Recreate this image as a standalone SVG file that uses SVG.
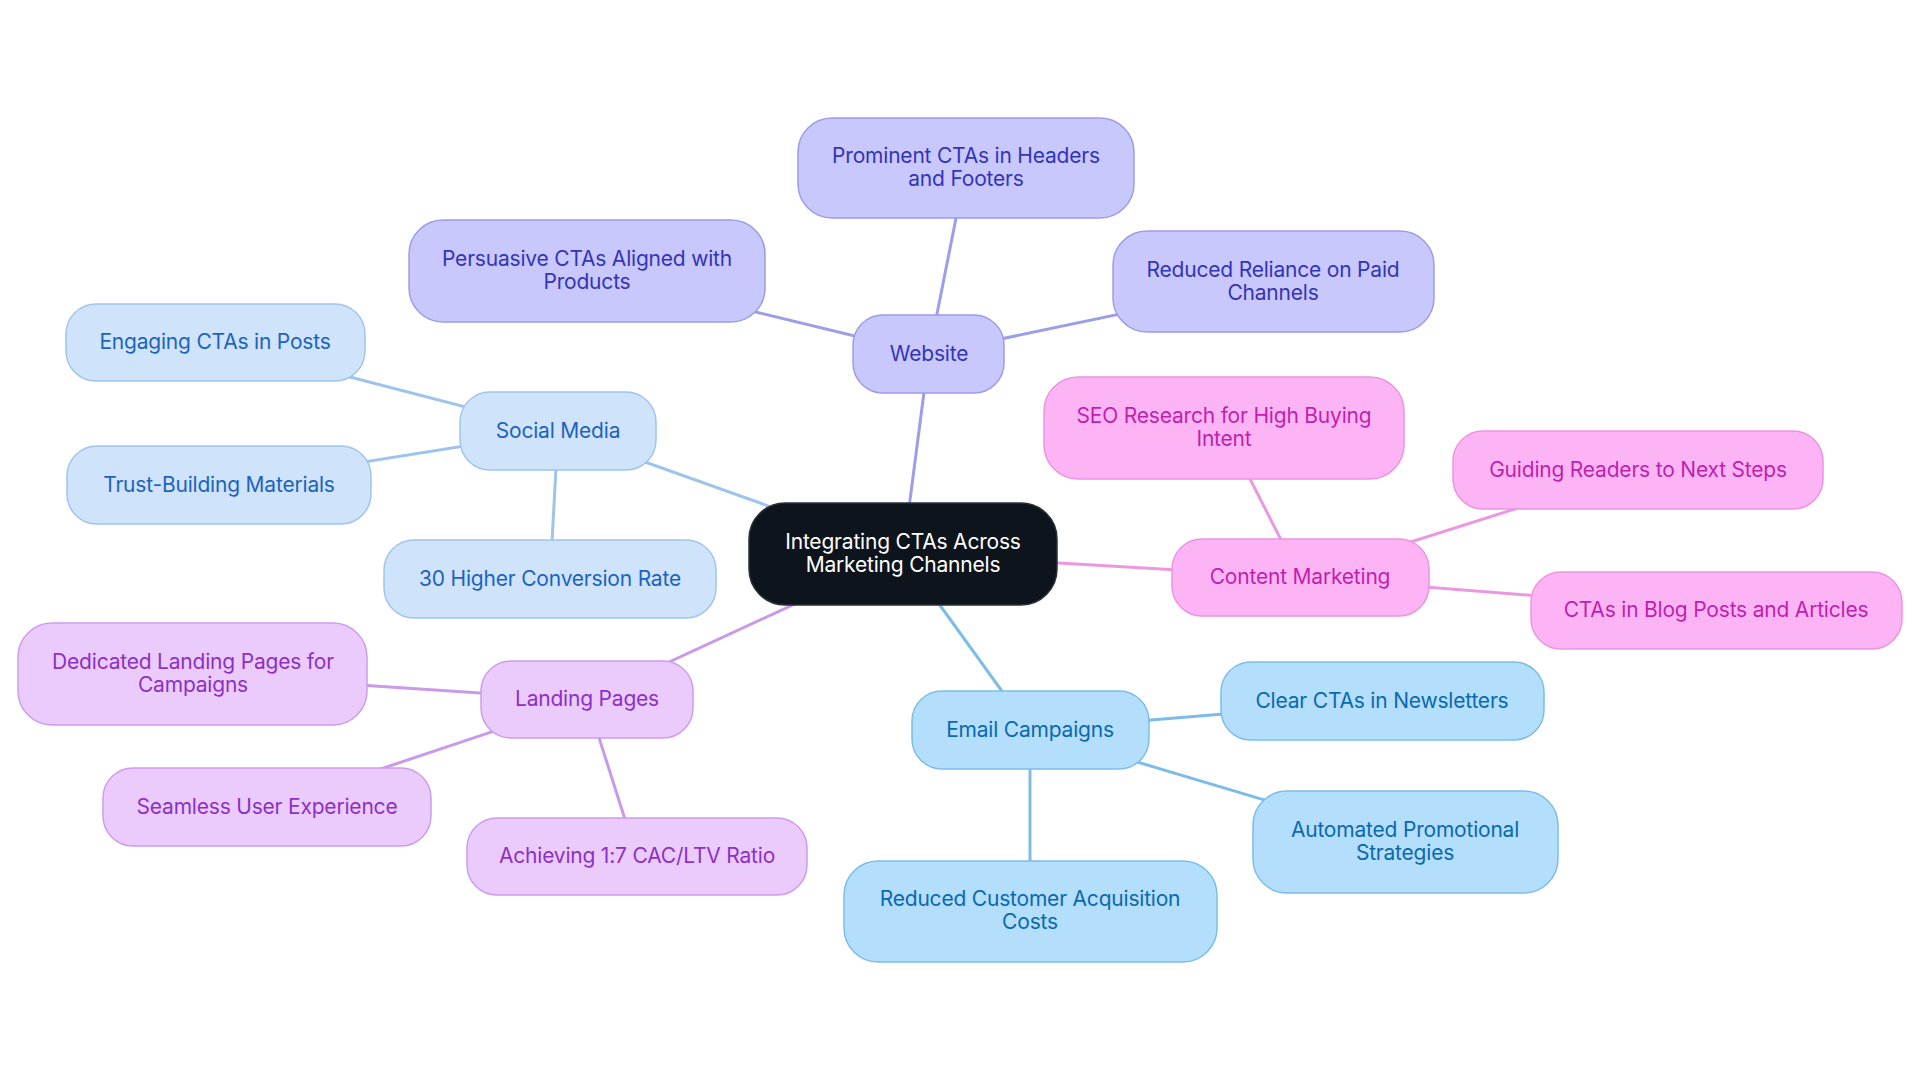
<svg xmlns="http://www.w3.org/2000/svg" width="1920" height="1083" viewBox="0 0 1920 1083">
<style>
text{font-family:Inter,"Noto Sans","Liberation Sans",sans-serif;font-size:21px;text-anchor:middle;letter-spacing:-0.2px}
.e{stroke-width:3;fill:none}
.n rect{stroke-width:1.5}
.sm rect{fill:#cfe3fa;stroke:#a0c5ee}.sm text{fill:#1d63bd}
.wb rect{fill:#c8c8fc;stroke:#9c9ce8}.wb text{fill:#3434b6}
.cm rect{fill:#fcb4f4;stroke:#ec94e2}.cm text{fill:#c01fb0}
.em rect{fill:#b3defc;stroke:#7ebde8}.em text{fill:#0b69ae}
.lp rect{fill:#ebcbfc;stroke:#cd9cee}.lp text{fill:#8c30c6}
</style>
<rect width="1920" height="1083" fill="#ffffff"/>
<g id="connectors">
<g stroke="#9d9de8" class="e">
<line x1="903" y1="554" x2="929" y2="354"/>
<line x1="929" y1="354" x2="966" y2="168"/>
<line x1="929" y1="354" x2="587" y2="271"/>
<line x1="929" y1="354" x2="1273" y2="282"/>
</g>
<g stroke="#9fc4ec" class="e">
<line x1="903" y1="554" x2="558" y2="431"/>
<line x1="558" y1="431" x2="215" y2="342"/>
<line x1="558" y1="431" x2="219" y2="485"/>
<line x1="558" y1="431" x2="550" y2="579"/>
</g>
<g stroke="#ec98e0" class="e">
<line x1="903" y1="554" x2="1300" y2="577"/>
<line x1="1300" y1="577" x2="1224" y2="428"/>
<line x1="1300" y1="577" x2="1638" y2="470"/>
<line x1="1300" y1="577" x2="1716" y2="610"/>
</g>
<g stroke="#7cbce6" class="e">
<line x1="903" y1="554" x2="1030" y2="730"/>
<line x1="1030" y1="730" x2="1382" y2="701"/>
<line x1="1030" y1="730" x2="1405" y2="842"/>
<line x1="1030" y1="730" x2="1030" y2="911"/>
</g>
<g stroke="#c89ae8" class="e">
<line x1="903" y1="554" x2="587" y2="700"/>
<line x1="587" y1="700" x2="193" y2="674"/>
<line x1="587" y1="700" x2="267" y2="807"/>
<line x1="587" y1="700" x2="637" y2="857"/>
</g>
</g>
<g id="root">
<rect x="749" y="503" width="308" height="102" rx="36" fill="#0d141c" stroke="#2a3038" stroke-width="1.5"/>
<text x="903" y="549" fill="#ffffff">Integrating CTAs Across</text>
<text x="903" y="572" fill="#ffffff">Marketing Channels</text>
</g>
<g id="website" class="n wb">
<rect x="853" y="315" width="151" height="78" rx="30"/>
<text x="929" y="361">Website</text>
</g>
<g id="prominent" class="n wb">
<rect x="798" y="118" width="336" height="100" rx="34"/>
<text x="966" y="163">Prominent CTAs in Headers</text>
<text x="966" y="186">and Footers</text>
</g>
<g id="persuasive" class="n wb">
<rect x="409" y="220" width="356" height="102" rx="34"/>
<text x="587" y="266">Persuasive CTAs Aligned with</text>
<text x="587" y="289">Products</text>
</g>
<g id="reliance" class="n wb">
<rect x="1113" y="231" width="321" height="101" rx="34"/>
<text x="1273" y="277">Reduced Reliance on Paid</text>
<text x="1273" y="300">Channels</text>
</g>
<g id="social" class="n sm">
<rect x="460" y="392" width="196" height="78" rx="30"/>
<text x="558" y="438">Social Media</text>
</g>
<g id="engaging" class="n sm">
<rect x="66" y="304" width="299" height="77" rx="30"/>
<text x="215" y="349">Engaging CTAs in Posts</text>
</g>
<g id="trust" class="n sm">
<rect x="67" y="446" width="304" height="78" rx="30"/>
<text x="219" y="492">Trust-Building Materials</text>
</g>
<g id="higher" class="n sm">
<rect x="384" y="540" width="332" height="78" rx="30"/>
<text x="550" y="586">30 Higher Conversion Rate</text>
</g>
<g id="content" class="n cm">
<rect x="1172" y="539" width="257" height="77" rx="30"/>
<text x="1300" y="584">Content Marketing</text>
</g>
<g id="seo" class="n cm">
<rect x="1044" y="377" width="360" height="102" rx="34"/>
<text x="1224" y="423">SEO Research for High Buying</text>
<text x="1224" y="446">Intent</text>
</g>
<g id="guiding" class="n cm">
<rect x="1453" y="431" width="370" height="78" rx="30"/>
<text x="1638" y="477">Guiding Readers to Next Steps</text>
</g>
<g id="blog" class="n cm">
<rect x="1531" y="572" width="371" height="77" rx="30"/>
<text x="1716" y="617">CTAs in Blog Posts and Articles</text>
</g>
<g id="email" class="n em">
<rect x="912" y="691" width="237" height="78" rx="30"/>
<text x="1030" y="737">Email Campaigns</text>
</g>
<g id="clear" class="n em">
<rect x="1221" y="662" width="323" height="78" rx="30"/>
<text x="1382" y="708">Clear CTAs in Newsletters</text>
</g>
<g id="automated" class="n em">
<rect x="1253" y="791" width="305" height="102" rx="34"/>
<text x="1405" y="837">Automated Promotional</text>
<text x="1405" y="860">Strategies</text>
</g>
<g id="cac" class="n em">
<rect x="844" y="861" width="373" height="101" rx="34"/>
<text x="1030" y="906">Reduced Customer Acquisition</text>
<text x="1030" y="929">Costs</text>
</g>
<g id="landing" class="n lp">
<rect x="481" y="661" width="212" height="77" rx="30"/>
<text x="587" y="706">Landing Pages</text>
</g>
<g id="dedicated" class="n lp">
<rect x="18" y="623" width="349" height="102" rx="34"/>
<text x="193" y="669">Dedicated Landing Pages for</text>
<text x="193" y="692">Campaigns</text>
</g>
<g id="seamless" class="n lp">
<rect x="103" y="768" width="328" height="78" rx="30"/>
<text x="267" y="814">Seamless User Experience</text>
</g>
<g id="achieving" class="n lp">
<rect x="467" y="818" width="340" height="77" rx="30"/>
<text x="637" y="863">Achieving 1:7 CAC/LTV Ratio</text>
</g>
</svg>
